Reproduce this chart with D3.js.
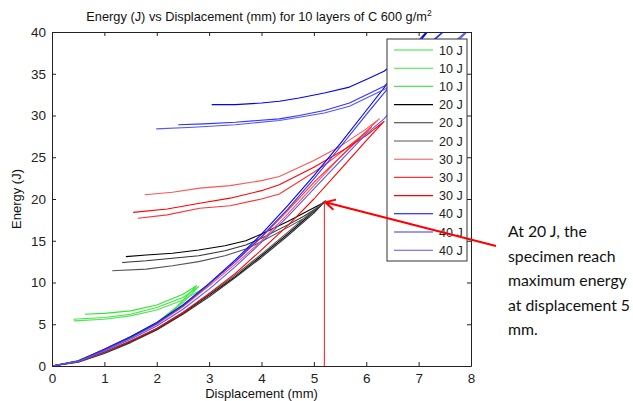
<!doctype html>
<html>
  <head>
    <title>Energy vs Displacement</title>
    <script src="https://d3js.org/d3.v7.min.js"></script>
    <style>
      * { margin: 0; padding: 0; }
      body { background: #fff; }
      svg { display: block; }
    </style>
  </head>
  <body>
    <div id="chart"></div>
    <script>
    // ---- data: [displacement (mm), energy (J)] ----
    // each specimen: loading branch from origin up to peak, then rebound branch
    const g10a = [[0,0],[0.5,0.65],[1,2.0],[1.5,3.5],[2,5.2],[2.4,7.2],[2.76,9.6],
                  [2.5,8.6],[2.0,7.3],[1.5,6.6],[1.0,6.3],[0.63,6.2]];
    const g10b = [[0,0],[0.5,0.6],[1,1.95],[1.5,3.4],[2,5.1],[2.5,7.6],[2.8,9.5],
                  [2.5,8.2],[2.0,7.0],[1.5,6.2],[1.0,5.8],[0.41,5.6]];
    const g10c = [[0,0],[0.5,0.6],[1,1.9],[1.5,3.3],[2,5.0],[2.5,7.3],[3.04,9.8],
                  [2.5,7.9],[2.0,6.7],[1.5,6.0],[1.0,5.6],[0.42,5.4]];

    const k20a = [[0,0],[0.5,0.5],[1,1.6],[1.5,2.9],[2,4.4],[2.5,6.3],[3,8.5],[3.5,10.7],[4,13.2],[4.5,15.8],[5,18.5],[5.2,19.6],
                  [4.8,18.3],[4.5,17.3],[4,15.8],[3.7,15.0],[3.3,14.4],[2.8,13.9],[2.3,13.5],[1.8,13.3],[1.41,13.1]];
    const k20b = [[0,0],[0.5,0.45],[1,1.5],[1.5,2.8],[2,4.3],[2.5,6.2],[3,8.3],[3.5,10.6],[4,13.0],[4.5,15.6],[5,18.3],[5.15,19.3],
                  [4.8,17.9],[4.5,16.9],[4,15.3],[3.7,14.5],[3.3,13.8],[2.8,13.2],[2.3,12.9],[1.8,12.6],[1.34,12.4]];
    const k20c = [[0,0],[0.5,0.5],[1,1.6],[1.5,3.0],[2,4.5],[2.5,6.4],[3,8.6],[3.5,10.9],[4,13.4],[4.5,16.0],[5,18.7],[5.22,19.8],
                  [4.9,18.0],[4.5,16.6],[4,14.9],[3.7,14.0],[3.3,13.2],[2.8,12.5],[2.3,12.0],[1.8,11.6],[1.15,11.4]];

    const r30a = [[0,0],[0.5,0.6],[1,1.9],[1.5,3.4],[2,5.0],[2.5,7.1],[3,9.6],[3.5,12.2],[4,15.0],[4.5,18.2],[5,21.6],[5.5,25.0],[6,28.1],[6.25,29.6],
                  [6.0,28.4],[5.5,26.3],[5.0,24.6],[4.34,22.7],[4.0,22.2],[3.4,21.6],[2.82,21.3],[2.3,20.8],[1.77,20.5]];
    const r30b = [[0,0],[0.5,0.6],[1,2.0],[1.5,3.5],[2,5.1],[2.5,7.2],[3,9.8],[3.5,12.5],[4,15.4],[4.5,18.6],[5,22.0],[5.5,25.0],[6.1,28.6],
                  [5.8,27.0],[5.3,24.5],[5.0,23.2],[4.34,20.6],[4.0,20.0],[3.4,19.2],[2.82,18.9],[2.2,18.1],[1.64,17.7]];
    const r30c = [[0,0],[0.5,0.5],[1,1.7],[1.5,3.0],[2,4.5],[2.5,6.4],[3,8.7],[3.5,11.1],[4,13.9],[4.5,16.8],[5,20.0],[5.5,23.5],[6,27.0],[6.34,29.3],
                  [6.0,27.6],[5.6,26.0],[5.0,23.8],[4.34,21.7],[4.0,21.0],[3.4,20.1],[2.82,19.5],[2.2,18.8],[1.55,18.4]];

    const b40a = [[0,0],[0.5,0.6],[1,2.0],[1.5,3.5],[2,5.2],[2.5,7.3],[3,9.9],[3.5,12.7],[4,15.8],[4.5,19.2],[5,22.8],[5.5,26.6],[6,30.6],[6.5,34.6],[7,38.7],[7.3,41.0],
                  [7.0,39.0],[6.6,36.6],[6.34,35.3],[6.0,34.3],[5.68,33.4],[5.2,32.7],[4.72,32.1],[4.34,31.7],[4.0,31.5],[3.5,31.3],[3.05,31.3]];
    const b40b = [[0,0],[0.5,0.6],[1,1.95],[1.5,3.4],[2,5.1],[2.5,7.2],[3,9.8],[3.5,12.5],[4,15.5],[4.5,18.8],[5,22.4],[5.5,26.2],[6,30.1],[6.5,33.9],[7,37.3],[7.47,40.0],[7.6,40.8],
                  [7.2,38.6],[6.8,35.9],[6.34,33.5],[5.68,31.5],[5.2,30.6],[4.72,30.0],[4.34,29.6],[3.5,29.2],[2.9,29.0],[2.41,28.9]];
    const b40c = [[0,0],[0.5,0.55],[1,1.8],[1.5,3.2],[2,4.8],[2.5,6.8],[3,9.2],[3.5,11.9],[4,14.8],[4.5,17.9],[5,21.2],[5.5,24.5],[6,27.8],[6.34,29.6],[7,34.5],[7.5,37.4],[7.92,40.0],[8.05,40.8],
                  [7.6,38.4],[7.0,35.8],[6.34,33.1],[5.68,31.1],[5.2,30.3],[4.72,29.8],[4.34,29.4],[3.5,28.9],[2.7,28.6],[1.99,28.4]];

    const series = [g10a, g10b, g10c, k20a, k20b, k20c, r30a, r30b, r30c, b40a, b40b, b40c];
    const seriesLabels = ["10 J","10 J","10 J","20 J","20 J","20 J","30 J","30 J","30 J","40 J","40 J","40 J"];
    const xTicks = [0,1,2,3,4,5,6,7,8];
    const yTicks = [0,5,10,15,20,25,30,35,40];
    // marked point: max energy of the 20 J specimen
    const peak20 = [5.2, 19.6];
    const noteLines = ["At 20 J, the", "specimen reach", "maximum energy", "at displacement 5", "mm."];

    // line colours (matlab style)
    const colors = ["#2ee82e","#3fe63f","#50e450","#000000","#333333","#555555",
                    "#ff5555","#ff3333","#ff0000","#0000ff","#3333ff","#5555ff"];

    const W = 633, H = 401;
    const m = {left: 52, right: 471, top: 32, bottom: 366};

    const svg = d3.select("#chart").append("svg").attr("width", W).attr("height", H);

    const x = d3.scaleLinear().domain([0, 8]).range([m.left, m.right]);
    const y = d3.scaleLinear().domain([0, 40]).range([m.bottom, m.top]);

    svg.append("clipPath").attr("id", "clip")
      .append("rect")
      .attr("x", m.left).attr("y", m.top)
      .attr("width", m.right - m.left).attr("height", m.bottom - m.top);

    const font = "'Liberation Sans', Arial, Helvetica, sans-serif";

    // title
    const title = svg.append("text")
      .attr("x", 259).attr("y", 21)
      .attr("text-anchor", "middle")
      .style("font-family", font).style("font-size", "12.8px").style("fill", "#111");
    title.append("tspan").text("Energy (J) vs Displacement (mm) for 10 layers of C 600 g/m");
    title.append("tspan").attr("dy", -5).style("font-size", "8.5px").text("2");

    // curves
    const line = d3.line().x(d => x(d[0])).y(d => y(d[1]));
    svg.append("g").attr("clip-path", "url(#clip)")
      .selectAll("path").data(series).join("path")
      .attr("d", line)
      .attr("fill", "none")
      .attr("stroke", (d, i) => colors[i])
      .attr("stroke-width", 1.1)
      .attr("stroke-linejoin", "round");

    // box + inward ticks (bottom/left labelled, top/right plain)
    const axB = svg.append("g").attr("transform", `translate(0,${m.bottom})`)
      .call(d3.axisBottom(x).tickValues(xTicks).tickSizeInner(-4).tickSizeOuter(0).tickPadding(7).tickFormat(d3.format("d")));
    const axT = svg.append("g").attr("transform", `translate(0,${m.top})`)
      .call(d3.axisTop(x).tickValues(xTicks).tickSizeInner(-4).tickSizeOuter(0).tickFormat(""));
    const axL = svg.append("g").attr("transform", `translate(${m.left},0)`)
      .call(d3.axisLeft(y).tickValues(yTicks).tickSizeInner(-4).tickSizeOuter(0).tickPadding(6).tickFormat(d3.format("d")));
    const axR = svg.append("g").attr("transform", `translate(${m.right},0)`)
      .call(d3.axisRight(y).tickValues(yTicks).tickSizeInner(-4).tickSizeOuter(0).tickFormat(""));
    [axB, axT, axL, axR].forEach(a => {
      a.selectAll("path").attr("stroke", "#222");
      a.selectAll("line").attr("stroke", "#222");
      a.selectAll("text").style("font-family", font).style("font-size", "13.5px").attr("fill", "#222");
    });

    // axis labels
    svg.append("text")
      .attr("x", (m.left + m.right) / 2).attr("y", 398)
      .attr("text-anchor", "middle")
      .style("font-family", font).style("font-size", "13px").style("fill", "#111")
      .text("Displacement (mm)");
    svg.append("text")
      .attr("transform", `translate(21,${(m.top + m.bottom) / 2}) rotate(-90)`)
      .attr("text-anchor", "middle")
      .style("font-family", font).style("font-size", "13px").style("fill", "#111")
      .text("Energy (J)");

    // legend
    const lg = svg.append("g");
    lg.append("rect")
      .attr("x", 387).attr("y", 39).attr("width", 80).attr("height", 222)
      .attr("fill", "#fff").attr("stroke", "#333").attr("stroke-width", 1);
    const items = lg.selectAll("g.item").data(seriesLabels).join("g")
      .attr("class", "item")
      .attr("transform", (d, i) => `translate(0,${50 + i * 18.2})`);
    items.append("line")
      .attr("x1", 394).attr("x2", 433)
      .attr("stroke", (d, i) => colors[i]).attr("stroke-width", 1.1);
    items.append("text")
      .attr("x", 439).attr("y", 4.5)
      .style("font-family", font).style("font-size", "12.5px").style("fill", "#222")
      .text(d => d);

    // annotation: red drop line and arrow to the 20 J peak
    svg.append("line")
      .attr("x1", x(peak20[0])).attr("x2", x(peak20[0]))
      .attr("y1", y(0)).attr("y2", y(peak20[1]))
      .attr("stroke", "#ff1010").attr("stroke-width", 1);

    const tip = [x(peak20[0]) + 1, y(peak20[1])];
    const tail = [496, 246];
    const ang = Math.atan2(tail[1] - tip[1], tail[0] - tip[0]);
    const wing = 11, spread = 0.5;
    svg.append("path")
      .attr("d", `M${tail[0]},${tail[1]}L${tip[0]},${tip[1]}` +
        `M${tip[0] + wing * Math.cos(ang - spread)},${tip[1] + wing * Math.sin(ang - spread)}L${tip[0]},${tip[1]}` +
        `L${tip[0] + wing * Math.cos(ang + spread)},${tip[1] + wing * Math.sin(ang + spread)}`)
      .attr("fill", "none").attr("stroke", "#ff0000").attr("stroke-width", 2);

    svg.append("g").selectAll("text").data(noteLines).join("text")
      .attr("x", 508).attr("y", (d, i) => 237 + i * 24.5)
      .style("font-family", "Lato, 'Open Sans', sans-serif").style("font-size", "15.8px").style("fill", "#111")
      .text(d => d);
    </script>
  </body>
</html>
